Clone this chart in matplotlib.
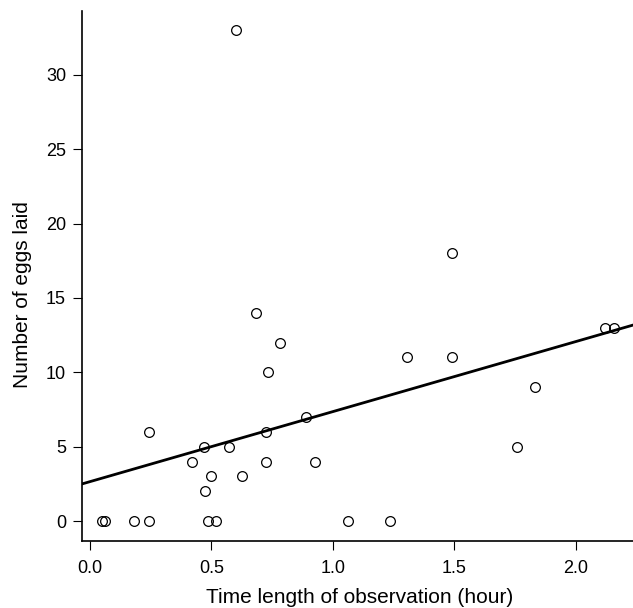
import matplotlib
matplotlib.use("Agg")
import matplotlib.pyplot as plt
import numpy as np

plt.rcParams['font.family'] = ['Liberation Sans', 'DejaVu Sans']

hours = [0.051, 0.062, 0.182, 0.243, 0.243, 0.42, 0.468, 0.472, 0.487, 0.497,
         0.517, 0.572, 0.600, 0.624, 0.685, 0.726, 0.726, 0.733, 0.783, 0.889,
         0.926, 1.064, 1.233, 1.303, 1.49, 1.49, 1.756, 1.831, 2.119, 2.156]
eggs = [0, 0, 0, 0, 6, 4, 5, 2, 0, 3,
        0, 5, 33, 3, 14, 4, 6, 10, 12, 7,
        4, 0, 0, 11, 18, 11, 5, 9, 13, 13]

fit_intercept = 2.65
fit_slope = 4.71

xlim = (-0.033, 2.235)
ylim = (-1.35, 34.3)
xticks = [0.0, 0.5, 1.0, 1.5, 2.0]
yticks = [0, 5, 10, 15, 20, 25, 30]

fig = plt.figure(figsize=(6.33, 6.08), dpi=100)
ax = fig.add_axes([0.1295, 0.110, 0.8705, 0.872])

ax.plot(hours, eggs, linestyle='none', marker='o', markersize=7.0,
        markerfacecolor='none', markeredgecolor='black', markeredgewidth=0.9)
xx = np.array(xlim)
ax.plot(xx, fit_intercept + fit_slope * xx, color='black', linewidth=2.0)

ax.set_xlim(*xlim)
ax.set_ylim(*ylim)
ax.set_xticks(xticks)
ax.set_xticklabels([f"{t:.1f}" for t in xticks])
ax.set_yticks(yticks)
ax.spines['top'].set_visible(False)
ax.spines['right'].set_visible(False)
for s in ['left', 'bottom']:
    ax.spines[s].set_linewidth(1.2)
ax.tick_params(direction='out', length=6.5, width=0.8, labelsize=13)
ax.tick_params(axis='x', pad=7)
ax.tick_params(axis='y', pad=5)
ax.set_xlabel('Time length of observation (hour)', fontsize=15)
ax.set_ylabel('Number of eggs laid', fontsize=15)
ax.xaxis.set_label_coords(0.503, -0.089)
ax.yaxis.set_label_coords(-0.09, 0.465)

fig.savefig('out.png', dpi=100)
